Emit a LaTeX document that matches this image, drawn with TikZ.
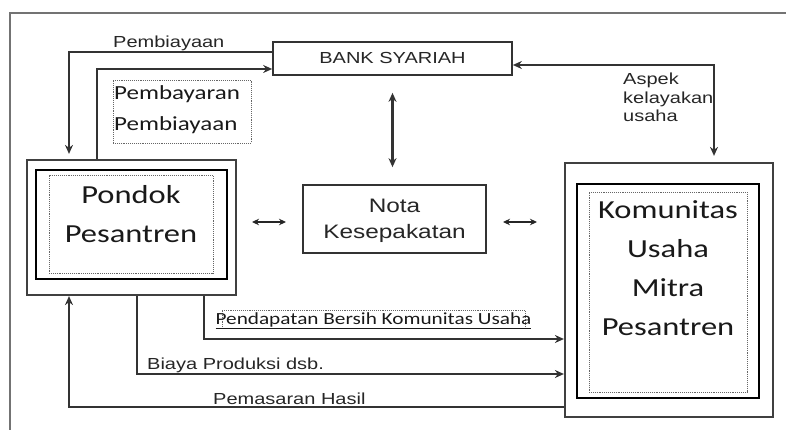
\documentclass[tikz,border=0pt]{standalone}
\usepackage{fontspec}
\setmainfont{Liberation Sans}[FakeStretch=1.25]
\newfontfamily\calfont{Carlito}[FakeStretch=1.25]
\usetikzlibrary{arrows.meta}
\begin{document}
\begin{tikzpicture}[x=1pt,y=-1pt,
  conn/.style={line width=2.2pt,draw=black!80},
  arr/.style={conn,-{Stealth[length=9pt,width=8pt]}},
  darr/.style={conn,{Stealth[length=9pt,width=8pt]}-{Stealth[length=9pt,width=8pt]}},
  sarr/.style={line width=1.6pt,draw=black!85,{Stealth[length=7pt,width=6.5pt]}-{Stealth[length=7pt,width=6.5pt]}},
  outerbox/.style={draw=black!75,line width=2.2pt,rectangle,inner sep=0pt},
  innerbox/.style={draw=black,line width=1.3pt,rectangle,inner sep=0pt},
  dotbox/.style={draw=black!60,densely dotted,line width=0.9pt,rectangle,inner sep=0pt},
  plainbox/.style={draw=black!80,line width=1.7pt,rectangle,inner sep=0pt},
  lbl/.style={inner sep=0pt,text=black!85,font=\fontsize{16}{18.5}\selectfont},
  bigtxt/.style={inner sep=0pt,text=black!90,align=center,font=\calfont\fontsize{26}{39}\selectfont},
  frame/.style={draw=black!55,line width=2.4pt}
]
\useasboundingbox (0,0) rectangle (786,430);
% outer frame
\draw[frame] (10,430) -- (10,13) -- (786,13);

% Bank
\node[plainbox,minimum width=239pt,minimum height=33pt] (bank) at (392.5,58.5) {};
\node[lbl,anchor=base] (banktxt) at (392.5,64) {BANK SYARIAH};

% Nota
\node[plainbox,minimum width=183pt,minimum height=68pt] (nota) at (394.5,219) {};
\node[lbl,anchor=base,align=center,font=\fontsize{19.5}{25}\selectfont] (notatxt) at (394.5,238) {Nota\\Kesepakatan};

% Pondok
\node[outerbox,minimum width=209pt,minimum height=135pt] (pondokO) at (131.5,227.5) {};
\node[innerbox,minimum width=191pt,minimum height=109pt] (pondokI) at (131.5,224.5) {};
\node[dotbox,minimum width=164pt,minimum height=98pt] (pondokD) at (131,224) {};
\node[bigtxt,anchor=base] (pondoktxt) at (131,242) {Pondok\\Pesantren};

% Komunitas
\node[outerbox,minimum width=208pt,minimum height=254pt] (komO) at (669,290) {};
\node[innerbox,minimum width=182pt,minimum height=214pt] (komI) at (668,291) {};
\node[dotbox,minimum width=158pt,minimum height=200pt] (komD) at (668,292) {};
\node[bigtxt,anchor=base] (komtxt) at (668,335) {Komunitas\\Usaha\\Mitra\\Pesantren};

% top-left connectors
\draw[arr,shorten >=5pt] ([yshift=6.5pt]bank.west) -| ([xshift=-62.5pt]pondokO.north);
\draw[arr] ([xshift=-34.5pt]pondokO.north) |- ([yshift=-10.5pt]bank.west);
\node[lbl,anchor=base west] (pemb) at (113,48) {Pembiayaan};
\node[dotbox,minimum width=138pt,minimum height=63pt] (pbbox) at (182,111.5) {};
\node[inner sep=0pt,anchor=base west,align=left,text=black!90,font=\calfont\fontsize{20}{31}\selectfont] (pbtxt) at (114,131) {Pembayaran\\Pembiayaan};

% bank - komunitas
\draw[darr,shorten <=6pt] ([xshift=45pt]komO.north) |- ([yshift=-6.5pt]bank.east);
\node[lbl,anchor=base west,align=left] (aspek) at (623,122) {Aspek\\kelayakan\\usaha};

% bank - nota
\draw[darr,shorten <=17pt,shorten >=17pt] (bank.south) -- (bank.south |- nota.north);

% small double arrows
\coordinate (la1) at (252,222);
\coordinate (la2) at (286,222);
\coordinate (ra1) at (503,222);
\coordinate (ra2) at (537,222);
\draw[sarr] (la1) -- (la2);
\draw[sarr] (ra1) -- (ra2);

% bottom connectors
\draw[arr] ([xshift=72.5pt]pondokO.south) |- (komO.west |- 0,339);
\draw[arr] ([xshift=5.5pt]pondokO.south) |- (komO.west |- 0,374);
\draw[arr] (komO.west |- 0,407) -| ([xshift=-62.5pt]pondokO.south);

\node[dotbox,minimum width=303pt,minimum height=18pt] (pdbox) at (373.5,319) {};
\node[inner sep=0pt,anchor=base,text=black!90,font=\calfont\fontsize{17}{20}\selectfont] (pdtxt) at (373.5,324) {\underline{Pendapatan Bersih Komunitas Usaha}};
\node[lbl,anchor=base west] (biaya) at (147,369) {Biaya Produksi dsb.};
\node[lbl,anchor=base west] (pemasaran) at (213,404) {Pemasaran Hasil};
\end{tikzpicture}
\end{document}
